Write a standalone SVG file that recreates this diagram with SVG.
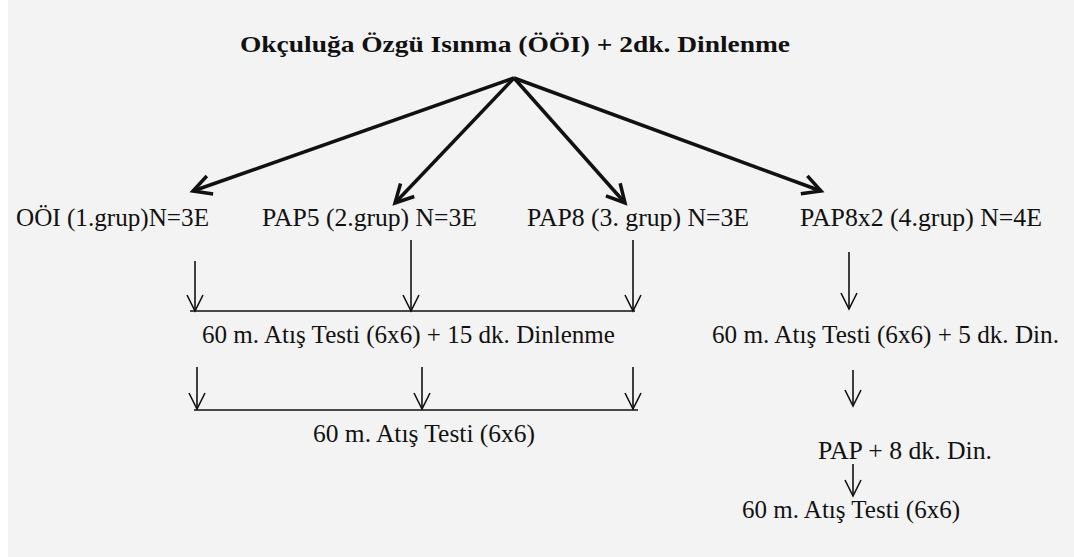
<svg xmlns="http://www.w3.org/2000/svg" width="1074" height="557" viewBox="0 0 1074 557">
<style>
.t{font-family:'Liberation Serif','Times New Roman',serif;font-size:25px;fill:#111;}
.title{font-weight:bold;font-size:24px;}
.thick{stroke:#111;stroke-width:3.5;fill:none;}
.thin{stroke:#111;stroke-width:1.6;fill:none;}
</style>
<defs>
<marker id="ah" markerUnits="userSpaceOnUse" viewBox="-25 -15 30 30" markerWidth="30" markerHeight="30" refX="0" refY="0" orient="auto" overflow="visible">
<path d="M -18 -9.5 L 0 0 L -18 9.5" fill="none" stroke="#111" stroke-width="3.5" stroke-linejoin="miter"/>
</marker>
<marker id="as" markerUnits="userSpaceOnUse" viewBox="-20 -10 24 20" markerWidth="24" markerHeight="20" refX="0" refY="0" orient="auto" overflow="visible">
<path d="M -16 -8 L 0 0 L -16 8" fill="none" stroke="#111" stroke-width="1.6"/>
</marker>
</defs>
<rect x="0" y="0" width="1074" height="557" fill="#ffffff"/>
<rect x="8" y="0" width="1066" height="557" fill="#f3f3f3"/>

<g id="title"><text class="t title" x="240" y="52" textLength="550" lengthAdjust="spacingAndGlyphs">Okçuluğa Özgü Isınma (ÖÖI) + 2dk. Dinlenme</text></g>
<g id="g1"><text class="t" x="16" y="226" textLength="193" lengthAdjust="spacingAndGlyphs">OÖI (1.grup)N=3E</text></g>
<g id="g2"><text class="t" x="262" y="226" textLength="215" lengthAdjust="spacingAndGlyphs">PAP5 (2.grup) N=3E</text></g>
<g id="g3"><text class="t" x="527" y="226" textLength="222" lengthAdjust="spacingAndGlyphs">PAP8 (3. grup) N=3E</text></g>
<g id="g4"><text class="t" x="800" y="226" textLength="242" lengthAdjust="spacingAndGlyphs">PAP8x2 (4.grup) N=4E</text></g>
<g id="test15"><text class="t" x="202" y="343" textLength="413" lengthAdjust="spacingAndGlyphs">60 m. Atış Testi (6x6) + 15 dk. Dinlenme</text></g>
<g id="test5"><text class="t" x="712" y="343" textLength="347" lengthAdjust="spacingAndGlyphs">60 m. Atış Testi (6x6) + 5 dk. Din.</text></g>
<g id="testL"><text class="t" x="313" y="442" textLength="222" lengthAdjust="spacingAndGlyphs">60 m. Atış Testi (6x6)</text></g>
<g id="pap"><text class="t" x="818" y="459" textLength="174" lengthAdjust="spacingAndGlyphs">PAP + 8 dk. Din.</text></g>
<g id="testR"><text class="t" x="742" y="518" textLength="218" lengthAdjust="spacingAndGlyphs">60 m. Atış Testi (6x6)</text></g>

<g id="connectors">
<line class="thick" x1="514" y1="78" x2="193" y2="191" marker-end="url(#ah)"/>
<line class="thick" x1="514" y1="78" x2="395" y2="203" marker-end="url(#ah)"/>
<line class="thick" x1="514" y1="78" x2="625" y2="203" marker-end="url(#ah)"/>
<line class="thick" x1="514" y1="78" x2="821" y2="191" marker-end="url(#ah)"/>

<line class="thin" x1="195" y1="261" x2="195" y2="311" marker-end="url(#as)"/>
<line class="thin" x1="411" y1="240" x2="411" y2="311" marker-end="url(#as)"/>
<line class="thin" x1="633" y1="240" x2="633" y2="311" marker-end="url(#as)"/>
<line class="thin" x1="190" y1="311" x2="635" y2="311"/>
<line class="thin" x1="849" y1="252" x2="849" y2="309" marker-end="url(#as)"/>

<line class="thin" x1="197" y1="367" x2="197" y2="409" marker-end="url(#as)"/>
<line class="thin" x1="422" y1="367" x2="422" y2="409" marker-end="url(#as)"/>
<line class="thin" x1="633" y1="367" x2="633" y2="409" marker-end="url(#as)"/>
<line class="thin" x1="194" y1="410" x2="638" y2="410"/>

<line class="thin" x1="853" y1="370" x2="853" y2="406" marker-end="url(#as)"/>
<line class="thin" x1="853" y1="464" x2="853" y2="496" marker-end="url(#as)"/>
</g>
</svg>
